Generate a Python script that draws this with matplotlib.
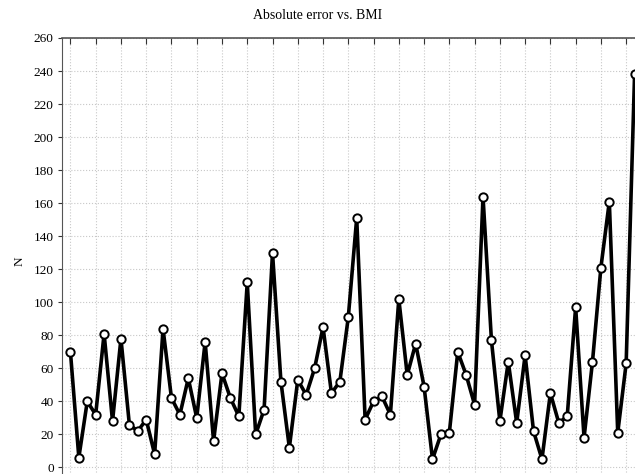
import numpy as np
import matplotlib.pyplot as plt

# valores (error absoluto por caso)
casos = np.arange(1, 69)
error_abs = [70, 6, 40, 32, 81, 28, 78, 26, 22, 29,
             8, 84, 42, 32, 54, 30, 76, 16, 57, 42,
             31, 112, 20, 35, 130, 52, 12, 53, 44, 60,
             85, 45, 52, 91, 151, 29, 40, 43, 32, 102,
             56, 75, 49, 5, 20, 21, 70, 56, 38, 164,
             77, 28, 64, 27, 68, 22, 5, 45, 27, 31,
             97, 18, 64, 121, 161, 21, 63, 238]
yticks = np.arange(0, 261, 20)

plt.rcParams['font.family'] = ['Liberation Serif', 'DejaVu Serif']

fig = plt.figure(figsize=(6.35, 4.74), dpi=100)
# ejes que se salen un poco del lienzo por la derecha y por abajo, como el original
ax = fig.add_axes([62/635, (474-484)/474, 581/635, 446/474])

ax.plot(casos, error_abs, color='black', lw=2.6, zorder=3,
        marker='o', markersize=6, markerfacecolor='white',
        markeredgecolor='black', markeredgewidth=1.4)

ax.set_xlim(0, 69)
ax.set_ylim(-10, 260)
ax.set_yticks(yticks)
ax.set_xticks(casos[::3])

ax.grid(True, color='#c8c8c8', linestyle=':', linewidth=0.8)
ax.set_axisbelow(True)

for lado in ['bottom', 'right']:
    ax.spines[lado].set_visible(False)
ax.spines['left'].set_color('#555555')
ax.spines['top'].set_color('#555555')
ax.spines['top'].set_linewidth(1.2)

ax.xaxis.tick_top()
ax.tick_params(axis='x', direction='in', length=4, color='#333333', labeltop=False)
ax.tick_params(axis='y', direction='out', length=3, color='#333333',
               labelsize=9.5, pad=3)

ax.set_ylabel('N', fontsize=9.5, labelpad=6)
fig.text(0.5, 0.968, 'Absolute error vs. BMI', ha='center', va='center', fontsize=10)

fig.savefig('out.png', dpi=100)
